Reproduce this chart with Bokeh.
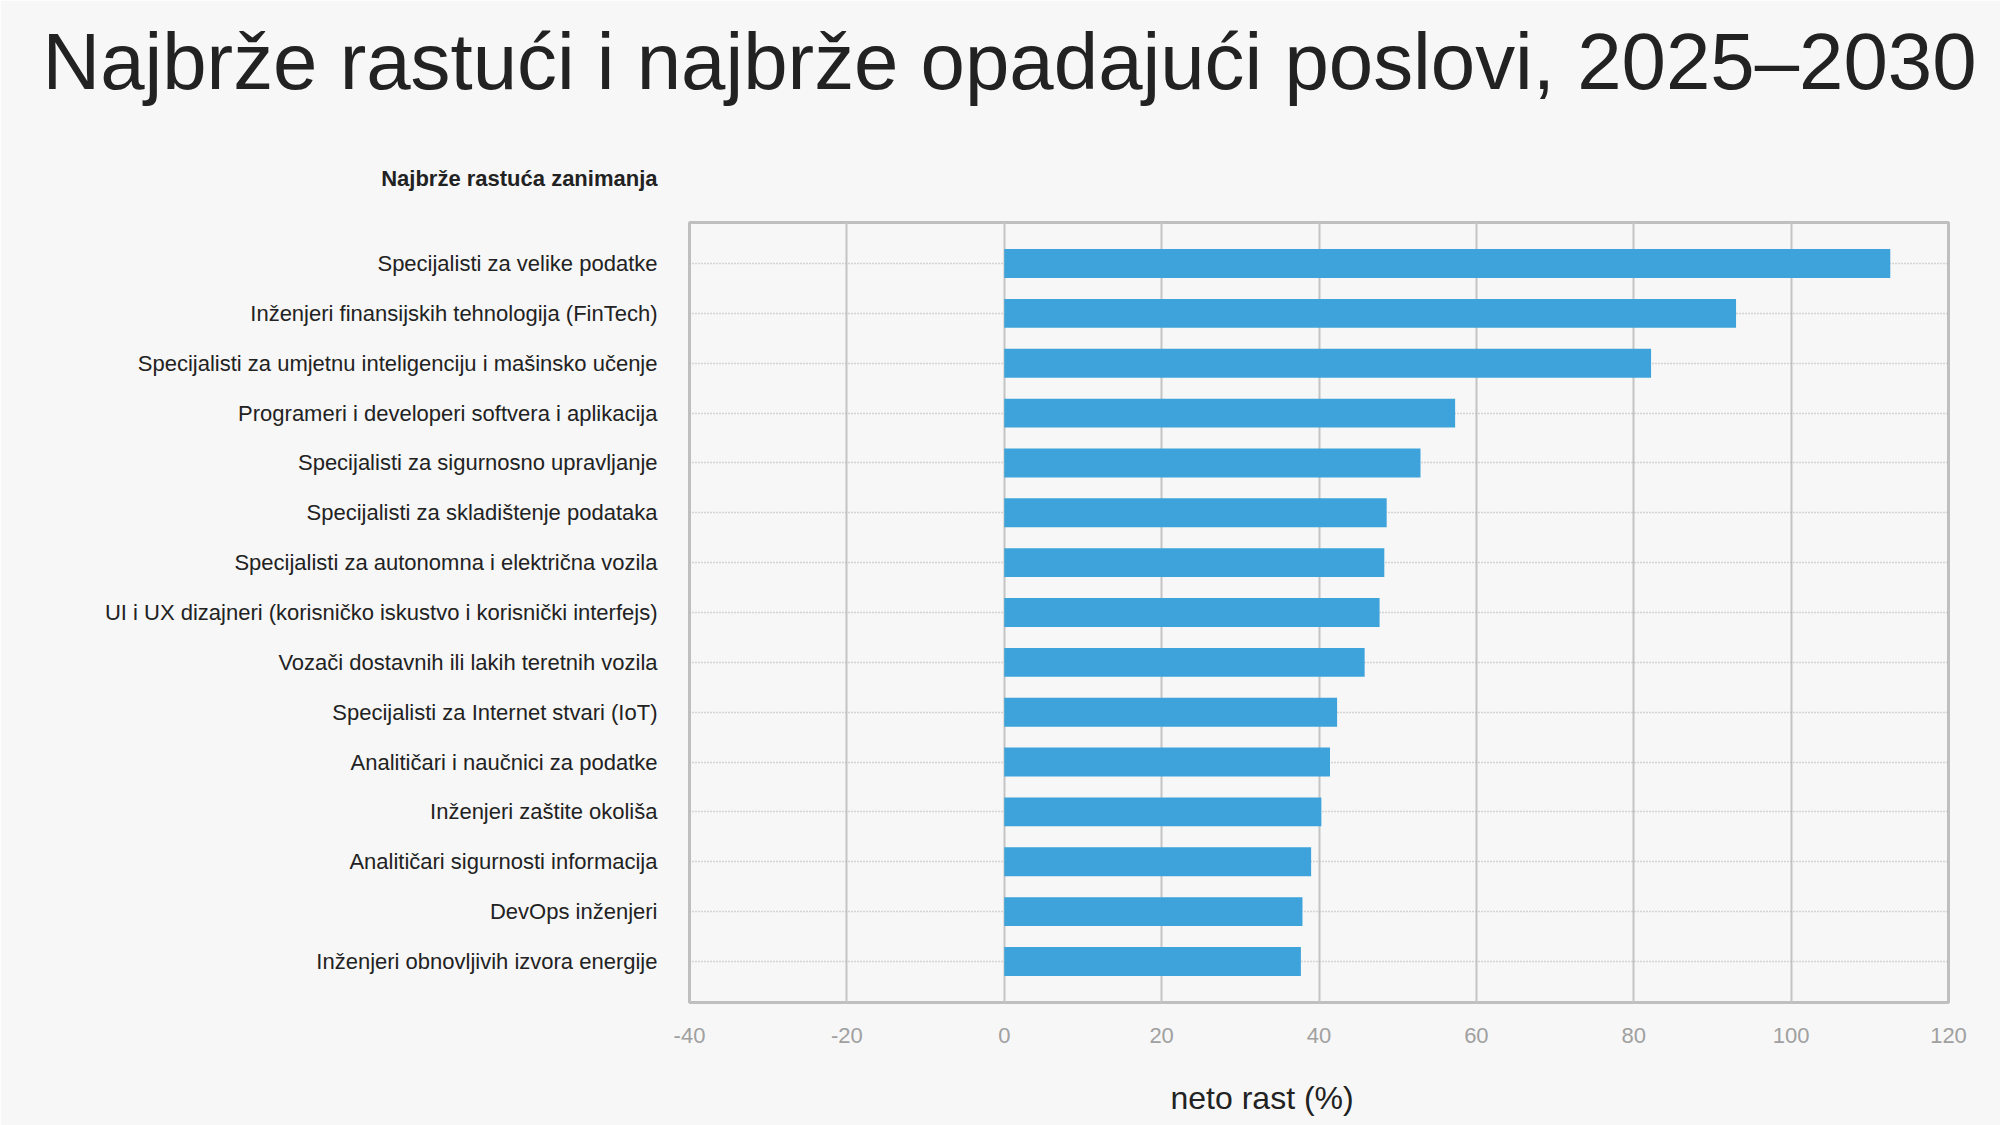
from bokeh.plotting import figure
from bokeh.models import FactorRange, Range1d, FixedTicker, Title
from bokeh.embed import file_html
from bokeh.resources import INLINE

title_text = "Najbrže rastući i najbrže opadajući poslovi, 2025–2030"
subtitle_text = "Najbrže rastuća zanimanja"
x_label = "neto rast (%)"

categories = [
    "Specijalisti za velike podatke",
    "Inženjeri finansijskih tehnologija (FinTech)",
    "Specijalisti za umjetnu inteligenciju i mašinsko učenje",
    "Programeri i developeri softvera i aplikacija",
    "Specijalisti za sigurnosno upravljanje",
    "Specijalisti za skladištenje podataka",
    "Specijalisti za autonomna i električna vozila",
    "UI i UX dizajneri (korisničko iskustvo i korisnički interfejs)",
    "Vozači dostavnih ili lakih teretnih vozila",
    "Specijalisti za Internet stvari (IoT)",
    "Analitičari i naučnici za podatke",
    "Inženjeri zaštite okoliša",
    "Analitičari sigurnosti informacija",
    "DevOps inženjeri",
    "Inženjeri obnovljivih izvora energije",
]
values = [112.6, 93.0, 82.2, 57.3, 52.9, 48.6, 48.3, 47.7, 45.8, 42.3, 41.4, 40.3, 39.0, 37.9, 37.7]
x_ticks = [-40, -20, 0, 20, 40, 60, 80, 100, 120]

BG = "#f7f7f7"
FONT = "Liberation Sans"

p = figure(
    width=2000, height=1125,
    y_range=FactorRange(factors=list(reversed(categories)), range_padding=0.0431),
    x_range=Range1d(-40, 120),
    output_backend="svg", toolbar_location=None,
    min_border_left=689, min_border_right=52,
    min_border_top=222, min_border_bottom=123,
)
p.title = None
p.background_fill_color = BG
p.border_fill_color = BG
p.outline_line_color = "#bfbfbf"
p.outline_line_width = 3

p.hbar(y=categories, left=0, right=values, height=0.58, color="#3da3da", line_color=None)

# grids
p.xaxis.ticker = FixedTicker(ticks=x_ticks)
p.xaxis.major_label_overrides = {t: str(t) for t in x_ticks}
p.xgrid.grid_line_color = "#c4c4c4"
p.xgrid.grid_line_width = 2
p.ygrid.grid_line_color = "#b0b0b0"
p.ygrid.grid_line_width = 1.5
p.ygrid.grid_line_dash = "1 2"

# axes
p.xaxis.axis_line_color = None
p.xaxis.major_tick_line_color = None
p.xaxis.minor_tick_line_color = None
p.xaxis.major_tick_out = 0
p.xaxis.minor_tick_out = 0
p.xaxis.major_label_standoff = 25
p.xaxis.major_label_text_font = FONT
p.xaxis.major_label_text_font_size = "22px"
p.xaxis.major_label_text_color = "#a0a0a0"

p.yaxis.axis_line_color = None
p.yaxis.major_tick_line_color = None
p.yaxis.major_tick_out = 0
p.yaxis.major_label_standoff = 32
p.yaxis.major_label_text_font = FONT
p.yaxis.major_label_text_font_size = "22px"
p.yaxis.major_label_text_color = "#222222"

sub = Title(text=subtitle_text, align="right", offset=1291, standoff=0,
            padding=(0, 0, 0, 32),
            text_font=FONT, text_font_size="22px", text_font_style="bold",
            text_color="#222222")
main = Title(text=title_text, align="left", offset=-647, standoff=0,
             padding=(0, 0, 0, 58),
             text_font=FONT, text_font_size="79.8px", text_font_style="normal",
             text_color="#222222")
p.add_layout(sub, "above")
p.add_layout(main, "above")

xl = Title(text=x_label, align="left", offset=481, standoff=0,
           padding=(0, 0, 32, 0),
           text_font=FONT, text_font_size="32px", text_font_style="normal",
           text_color="#222222")
p.add_layout(xl, "below")

open("out.html", "w").write(file_html(p, INLINE))
